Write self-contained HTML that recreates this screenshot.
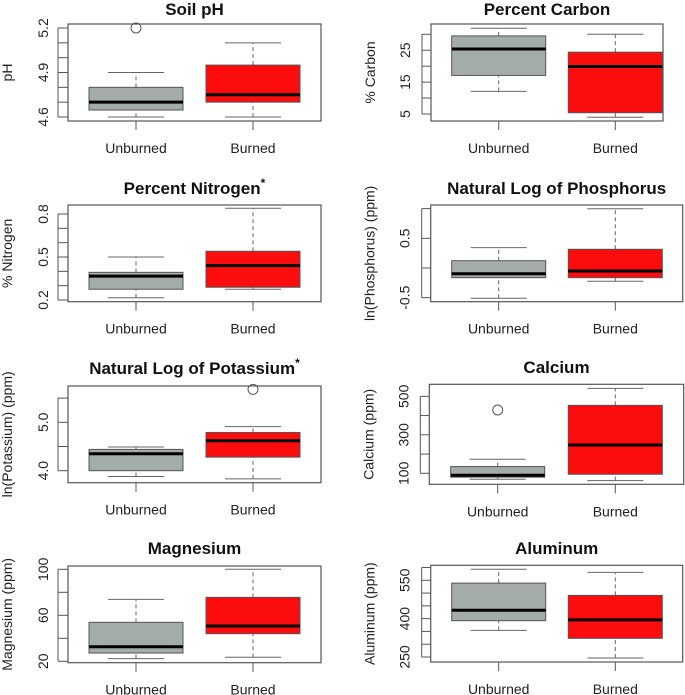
<!DOCTYPE html>
<html><head><meta charset="utf-8"><style>
html,body{margin:0;padding:0;background:#fff;}
svg{display:block;font-family:"Liberation Sans",Arial,sans-serif;}
</style></head><body>
<svg id="chart" width="685" height="695" viewBox="0 0 685 695"></svg>
<script>
const groups = ["Unburned","Burned"];
// [lower whisker, Q1, median, Q3, upper whisker]
const phUnburned = [4.6, 4.647, 4.70, 4.80, 4.9];
const phBurned = [4.6, 4.7, 4.75, 4.95, 5.1];
const phOutUnburned = [5.2];
const phOutBurned = [];
const carbonUnburned = [12.1, 17.1, 25.4, 29.5, 31.9];
const carbonBurned = [4.0, 5.4, 19.9, 24.4, 30];
const nitrogenUnburned = [0.216, 0.275, 0.367, 0.393, 0.50];
const nitrogenBurned = [0.275, 0.289, 0.44, 0.54, 0.84];
const phosUnburned = [-0.51, -0.163, -0.096, 0.123, 0.342];
const phosBurned = [-0.224, -0.163, -0.05, 0.315, 0.998];
const potUnburned = [3.88, 4.0, 4.35, 4.44, 4.49];
const potBurned = [3.83, 4.28, 4.62, 4.79, 4.91];
const potOutBurned = [5.68];
const caUnburned = [69, 80, 90, 135, 173];
const caBurned = [62, 95, 247, 453, 541];
const caOutUnburned = [429];
const mgUnburned = [22.3, 27.2, 32.7, 53.9, 73.9];
const mgBurned = [23.5, 44, 50.7, 75.6, 100];
const alUnburned = [354, 392, 433, 539, 593];
const alBurned = [246, 323, 395, 491, 581];
// tick values and printed labels
const phTicks = [4.6,4.7,4.8,4.9,5.0,5.1,5.2];
const phLabels = ["4.6","4.9","5.2"];
const carbonTicks = [5,10,15,20,25,30];
const carbonLabels = ["5","15","25"];
const nitrogenTicks = [0.2,0.3,0.4,0.5,0.6,0.7,0.8];
const nitrogenLabels = ["0.2","0.5","0.8"];
const phosTicks = [-0.5,0,0.5,1.0];
const phosLabels = ["-0.5","0.5"];
const potTicks = [4.0,4.5,5.0,5.5];
const potLabels = ["4.0","5.0"];
const caTicks = [100,200,300,400,500];
const caLabels = ["100","300","500"];
const mgTicks = [20,40,60,80,100];
const mgLabels = ["20","60","100"];
const alTicks = [250,300,350,400,450,500,550,600];
const alLabels = ["250","400","550"];

const panels = [
 {id:"soil-ph",title:"Soil pH",star:false,ylab:"pH",rect:[68,24,321,121],c:[136,253],cal:[4.6,117,5.2,28],
  data:[phUnburned,phBurned],out:[phOutUnburned,phOutBurned],ticks:phTicks,labels:phLabels,ty:9,left:true},
 {id:"percent-carbon",title:"Percent Carbon",star:false,ylab:"% Carbon",rect:[431,24,663,121],c:[498.7,615.3],cal:[5,114,30,34.3],
  data:[carbonUnburned,carbonBurned],out:[[],[]],ticks:carbonTicks,labels:carbonLabels,ty:9,left:false},
 {id:"percent-nitrogen",title:"Percent Nitrogen",star:true,ylab:"% Nitrogen",rect:[68,205,321,301.7],c:[136,253],cal:[0.2,300,0.8,214],
  data:[nitrogenUnburned,nitrogenBurned],out:[[],[]],ticks:nitrogenTicks,labels:nitrogenLabels,ty:188,left:true},
 {id:"phosphorus",title:"Natural Log of Phosphorus",star:false,ylab:"ln(Phosphorus) (ppm)",rect:[430.7,205,682.7,301.7],c:[498.7,615.3],cal:[-0.5,297.7,0.5,238.3],
  data:[phosUnburned,phosBurned],out:[[],[]],ticks:phosTicks,labels:phosLabels,ty:188,left:false},
 {id:"potassium",title:"Natural Log of Potassium",star:true,ylab:"ln(Potassium) (ppm)",rect:[68,386,321,482.7],c:[136,253],cal:[4.0,470.7,5.0,422.3],
  data:[potUnburned,potBurned],out:[[],potOutBurned],ticks:potTicks,labels:potLabels,ty:368,left:true},
 {id:"calcium",title:"Calcium",star:false,ylab:"Calcium (ppm)",rect:[429.3,384.3,683.7,484.3],c:[497.7,615.3],cal:[100,473.3,500,396.3],
  data:[caUnburned,caBurned],out:[caOutUnburned,[]],ticks:caTicks,labels:caLabels,ty:367,left:false},
 {id:"magnesium",title:"Magnesium",star:false,ylab:"Magnesium (ppm)",rect:[68,566,321,662.7],c:[136,253],cal:[20,661.3,100,569.3],
  data:[mgUnburned,mgBurned],out:[[],[]],ticks:mgTicks,labels:mgLabels,ty:548,left:true},
 {id:"aluminum",title:"Aluminum",star:false,ylab:"Aluminum (ppm)",rect:[430.7,565.3,682.7,662],c:[498.7,615.3],cal:[250,657,550,580.3],
  data:[alUnburned,alBurned],out:[[],[]],ticks:alTicks,labels:alLabels,ty:548,left:false}
];

const NS="http://www.w3.org/2000/svg";
const svg=document.getElementById("chart");
function mk(tag,attrs,parent,text){const e=document.createElementNS(NS,tag);for(const k in attrs)e.setAttribute(k,attrs[k]);if(text!==undefined)e.textContent=text;(parent||svg).appendChild(e);return e;}
const fills=["#a3aca8","#fb0d0d"];

panels.forEach(p=>{
 const g=mk("g",{});
 
 
 const [x0,y0,x1,y1]=p.rect;
 const [v1,py1,v2,py2]=p.cal;
 const Y=v=>py1+(v-v1)*(py2-py1)/(v2-v1);
 const cx=(p.rect[0]+p.rect[2])/2;
 // title
 const t=mk("text",{x:cx,y:p.ty+6,"text-anchor":"middle","font-size":"17","font-weight":"bold",fill:"#111"},g,p.title);
 
 
 if(p.star){const s=mk("tspan",{dy:"-7","font-size":"12"},t,"*");}
 // y axis
 const ax=x0-(p.left?10:9);
 const tv=p.ticks;
 const al=mk("line",{x1:ax,x2:ax,y1:Y(tv[0]),y2:Y(tv[tv.length-1]),stroke:"#555","stroke-width":"1"},g);
 
 
 tv.forEach(v=>{
  const tk=mk("line",{x1:ax,x2:x0,y1:Y(v),y2:Y(v),stroke:"#555","stroke-width":"1"},g);
  
  
 });
 p.labels.forEach(l=>{
  const v=parseFloat(l), lx=x0-(p.left?25:26), ly=Y(v);
  const tl=mk("text",{x:lx,y:ly,"text-anchor":"middle","font-size":"14",fill:"#222",transform:`rotate(-90 ${lx} ${ly})`,dy:"5"},g,l);
  
  
 });
 const yl=x0-61, ylc=(y0+y1)/2;
 const yt=mk("text",{x:yl,y:ylc,"text-anchor":"middle","font-size":"14",fill:"#222",transform:`rotate(-90 ${yl} ${ylc})`,dy:"5"},g,p.ylab);
 
 
 // boxes
 p.data.forEach((d,i)=>{
  const c=p.c[i], hw=47, cw=28;
  const bg=mk("g",{},g);
  
  
  mk("line",{x1:c,x2:c,y1:Y(d[0]),y2:Y(d[1]),stroke:"#666","stroke-dasharray":"4,3"},bg);
  mk("line",{x1:c,x2:c,y1:Y(d[3]),y2:Y(d[4]),stroke:"#666","stroke-dasharray":"4,3"},bg);
  mk("line",{x1:c-cw,x2:c+cw,y1:Y(d[0]),y2:Y(d[0]),stroke:"#666"},bg);
  mk("line",{x1:c-cw,x2:c+cw,y1:Y(d[4]),y2:Y(d[4]),stroke:"#666"},bg);
  mk("rect",{x:c-hw,y:Y(d[3]),width:2*hw,height:Y(d[1])-Y(d[3]),fill:fills[i],stroke:"#555","stroke-width":"1"},bg);
  mk("line",{x1:c-hw,x2:c+hw,y1:Y(d[2]),y2:Y(d[2]),stroke:"#000","stroke-width":"3"},bg);
  p.out[i].forEach(o=>{
   const oc=mk("circle",{cx:c,cy:Y(o),r:5,fill:"none",stroke:"#555","stroke-width":"1"},g);
   
   
  });
  const xt=mk("line",{x1:c,x2:c,y1:y1,y2:y1+9,stroke:"#555"},g);
  
  
  const xl=mk("text",{x:c,y:y1+32,"text-anchor":"middle","font-size":"14",fill:"#222"},g,groups[i]);
  
  
 });
 const fr=mk("rect",{x:x0,y:y0,width:x1-x0,height:y1-y0,fill:"none",stroke:"#555","stroke-width":"1.2"},g);
 
 
});
</script>
</body></html>
